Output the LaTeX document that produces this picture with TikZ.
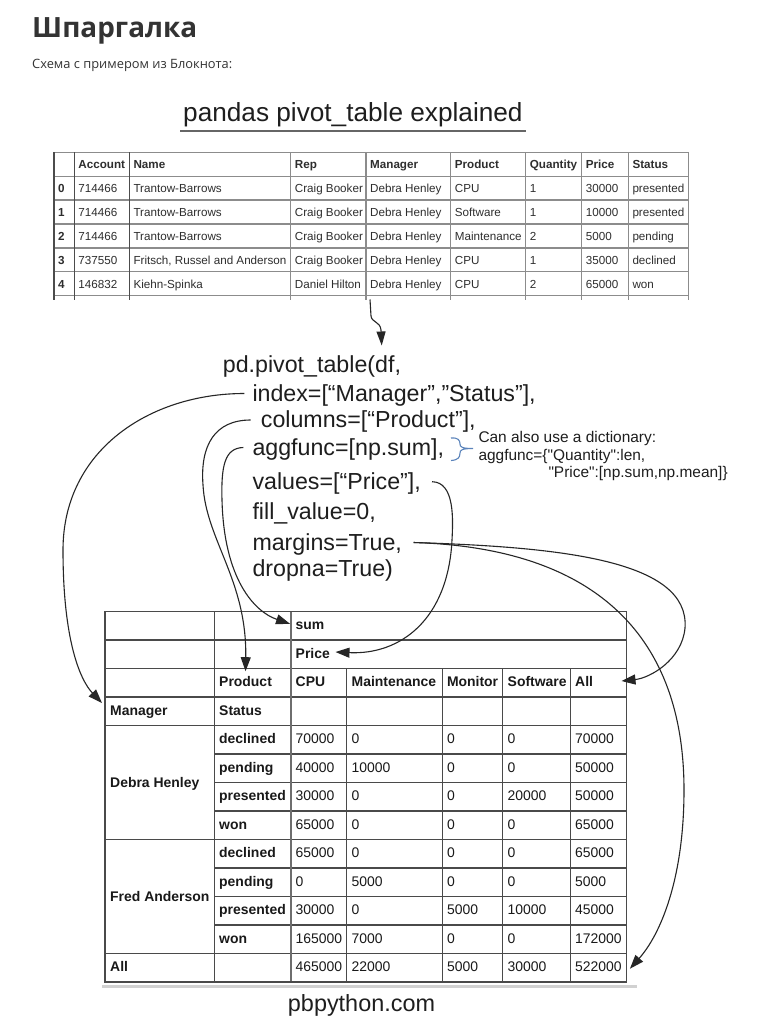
\documentclass[tikz,border=0pt]{standalone}
\usepackage{fontspec}
\setmainfont{Liberation Sans}
\newfontfamily\osans{Open Sans}
\newfontfamily\notefont{Liberation Sans}[Ligatures=TeXOff]
\usetikzlibrary{arrows.meta,calc}
\definecolor{txt}{HTML}{1E1E1E}
\definecolor{ttline}{HTML}{8C8C8C}
\definecolor{btline}{HTML}{4A4A4A}
\definecolor{bracec}{HTML}{5B84BB}
\tikzset{
 ttx/.style={anchor=base west, inner sep=0, font=\fontsize{11.7}{13}\selectfont, text=black!82},
 ttb/.style={ttx, font=\fontsize{11.7}{13}\selectfont\bfseries},
 btx/.style={anchor=base west, inner sep=0, font=\fontsize{14}{16}\selectfont, text=black!90},
 btb/.style={btx, font=\fontsize{14}{16}\selectfont\bfseries},
 code/.style={anchor=base west, inner sep=0, font=\fontsize{23.3}{28}\selectfont, text=txt},
 note/.style={anchor=base west, inner sep=0, font=\notefont\fontsize{15.5}{18}\selectfont, text=txt},
 conn/.style={line width=1.1bp, draw=black!85, -{Triangle[length=14bp,width=10bp]}},
 connsm/.style={line width=1.1bp, draw=black!85, -{Triangle[length=14bp,width=9bp]}},
 ttgrid/.style={draw=ttline, line width=1.3bp},
 btgrid/.style={draw=btline, line width=1.2bp},
}
\newcommand\ttrow[9]{%
 \pgfmathsetmacro\ttY{168.6+23.9*(#1+1)}%
 \node[ttb] (t#1c0) at (58,\ttY) {#1};
 \node[ttx] (t#1c1) at (78.3,\ttY) {#2};
 \node[ttx] (t#1c2) at (133.3,\ttY) {#3};
 \node[ttx] (t#1c3) at (294.7,\ttY) {#4};
 \node[ttx] (t#1c4) at (370,\ttY) {#5};
 \node[ttx] (t#1c5) at (454.7,\ttY) {#6};
 \node[ttx] (t#1c6) at (529.7,\ttY) {#7};
 \node[ttx] (t#1c7) at (585.7,\ttY) {#8};
 \node[ttx] (t#1c8) at (632.3,\ttY) {#9};
}
\newcommand\btrow[7]{%
 \pgfmathsetmacro\btY{611.5+28.5*#1+18}%
 \node[btb] (b#1s) at (219,\btY) {#2};
 \node[btx] (b#1a) at (295.5,\btY) {#3};
 \node[btx] (b#1b) at (351.5,\btY) {#4};
 \node[btx] (b#1c) at (446.8,\btY) {#5};
 \node[btx] (b#1d) at (507.5,\btY) {#6};
 \node[btx] (b#1e) at (575,\btY) {#7};
}
\begin{document}
\begin{tikzpicture}[x=1bp,y=-1bp]
\useasboundingbox (0,0) rectangle (774,1029);
\fill[white] (0,0) rectangle (774,1029);

% ---- page heading ----
\node[anchor=base west, inner sep=0, font=\osans\bfseries\fontsize{28}{32}\selectfont, text=black!80] (title) at (32,37) {Шпаргалка};
\node[anchor=base west, inner sep=0, font=\osans\fontsize{12.9}{15}\selectfont, text=black!80] (subtitle) at (32,68) {Схема с примером из Блокнота:};

\node[anchor=base west, inner sep=0, font=\fontsize{26.3}{30}\selectfont, text=txt] (head) at (183,121) {pandas pivot\_table explained};
\draw[black!60, line width=2bp] (180,131) -- (526,131);

% ---- top table ----
\foreach \yy in {152.3,176.2,200.1,224.0,247.9,271.8,295.7}
  \draw[ttgrid] (54,\yy) -- (688.3,\yy);
\foreach \xx in {54,74.3,129.3,290.7,366,450.7,525.7,581.7,628.3,688.3}
  \draw[ttgrid] (\xx,152.3) -- (\xx,299.5);
\draw[draw=black!70, line width=1.5bp] (54,152.3) -- (54,299.5) (74.3,152.3) -- (74.3,299.5) (129.3,152.3) -- (129.3,299.5);

\node[ttb] (th1) at (78.3,168.6) {Account};
\node[ttb] (th2) at (133.3,168.6) {Name};
\node[ttb] (th3) at (294.7,168.6) {Rep};
\node[ttb] (th4) at (370,168.6) {Manager};
\node[ttb] (th5) at (454.7,168.6) {Product};
\node[ttb] (th6) at (529.7,168.6) {Quantity};
\node[ttb] (th7) at (585.7,168.6) {Price};
\node[ttb] (th8) at (632.3,168.6) {Status};
\ttrow{0}{714466}{Trantow-Barrows}{Craig Booker}{Debra Henley}{CPU}{1}{30000}{presented}
\ttrow{1}{714466}{Trantow-Barrows}{Craig Booker}{Debra Henley}{Software}{1}{10000}{presented}
\ttrow{2}{714466}{Trantow-Barrows}{Craig Booker}{Debra Henley}{Maintenance}{2}{5000}{pending}
\ttrow{3}{737550}{Fritsch, Russel and Anderson}{Craig Booker}{Debra Henley}{CPU}{1}{35000}{declined}
\ttrow{4}{146832}{Kiehn-Spinka}{Daniel Hilton}{Debra Henley}{CPU}{2}{65000}{won}

% ---- code ----
\node[code] (cpd) at (222.7,372) {pd.pivot\_table(df,};
\node[code] (cidx) at (252.3,401) {index=[“Manager”,”Status”],};
\node[code] (ccol) at (260.7,427.5) {columns=[“Product”],};
\node[code] (cagg) at (252.3,455) {aggfunc=[np.sum],};
\node[code] (cval) at (252.3,489.5) {values=[“Price”],};
\node[code] (cfill) at (252.3,519.5) {fill\_value=0,};
\node[code] (cmar) at (252.3,550.5) {margins=True,};
\node[code] (cdrop) at (252.3,576) {dropna=True)};

% ---- note with brace ----
\draw[bracec, line width=1.1bp] (451,438) .. controls (458,437.5) and (460,440) .. (460,444)
  .. controls (460,447) and (462,448.5) .. (473,448.5)
  .. controls (462,448.5) and (460,450) .. (460,453)
  .. controls (460,457.5) and (458,460) .. (451,460.5);
\node[note] (n1) at (478.3,442) {Can also use a dictionary:};
\node[note] (n2) at (478.3,460.3) {aggfunc=\{"Quantity":len,};
\node[note] (n3) at (548.3,477) {"Price":[np.sum,np.mean]\}};

% ---- bottom table ----
\foreach \yy in {640,668.5,697,725.5,839.5,953.5}
  \draw[btgrid] (105,\yy) -- (626.7,\yy);
\foreach \yy in {754,782.5,811,868,896.5,925}
  \draw[btgrid] (214.3,\yy) -- (626.7,\yy);
\foreach \xx in {214.3}
  \draw[btgrid] (\xx,611.5) -- (\xx,982);
\draw[draw=btline!80, line width=2.3bp] (290.7,611.5) -- (290.7,982);
\foreach \xx in {346.7,442.3,502.7,570.7}
  \draw[btgrid] (\xx,668.5) -- (\xx,982);
\draw[btgrid] (105,611.5) rectangle (626.7,982);

\node[btb] (bSum) at (295.5,629.5) {sum};
\node[btb] (bPrice) at (295.5,658) {Price};
\node[btb] (bProduct) at (219,686.5) {Product};
\node[btb] (bCPU) at (295.5,686.5) {CPU};
\node[btb] (bMaint) at (351.5,686.5) {Maintenance};
\node[btb] (bMon) at (446.8,686.5) {Monitor};
\node[btb] (bSoft) at (507.5,686.5) {Software};
\node[btb] (bAll) at (575,686.5) {All};
\node[btb] (bMgr) at (110,715) {Manager};
\node[btb] (bStatus) at (219,715) {Status};
\node[btb] (bDebra) at (110,787.5) {Debra Henley};
\node[btb] (bFred) at (110,901.5) {Fred Anderson};
\node[btb] (bAllRow) at (110,971.5) {All};
\btrow{4}{declined}{70000}{0}{0}{0}{70000}
\btrow{5}{pending}{40000}{10000}{0}{0}{50000}
\btrow{6}{presented}{30000}{0}{0}{20000}{50000}
\btrow{7}{won}{65000}{0}{0}{0}{65000}
\btrow{8}{declined}{65000}{0}{0}{0}{65000}
\btrow{9}{pending}{0}{5000}{0}{0}{5000}
\btrow{10}{presented}{30000}{0}{5000}{10000}{45000}
\btrow{11}{won}{165000}{7000}{0}{0}{172000}
\btrow{12}{}{465000}{22000}{5000}{30000}{522000}

% ---- footer ----
\draw[black!18, line width=2.5bp] (102,986.5) -- (637,986.5);
\node[anchor=base, inner sep=0, font=\fontsize{23.5}{28}\selectfont, text=txt] (foot) at (361.5,1011) {pbpython.com};

% ---- connector end points ----
\coordinate (tabOut) at (370,299.5);
\coordinate (pdTip) at (381.7,345.5);
\coordinate (tipMgr) at (102,703);
\coordinate (tipAll) at (621.5,681);

% ---- connectors ----
\draw[connsm] (tabOut) -- (371,316) .. controls (372,323) and (380,321) .. (381,330) -- (pdTip);
\draw[conn] ($(cidx.base west)+(-8,-7.5)$) .. controls (150,393.5) and (63,450) .. (63,550)
  .. controls (63,640) and (80,680) .. (tipMgr);
\draw[conn] ($(ccol.base west)+(-10,-7.5)$) .. controls (215,420) and (200,445) .. (203,485)
  .. controls (206,540) and (247,580) .. ([yshift=5bp]bProduct.north);
\draw[conn] ($(cagg.base west)+(-9,-7.5)$) .. controls (225,448) and (221,465) .. (222,500)
  .. controls (224,580) and (255,612) .. ([xshift=-5.5bp,yshift=2bp]bSum.west);
\draw[conn] ($(cval.base east)+(11,-7.8)$) .. controls (455,482) and (453,520) .. (452,540)
  .. controls (448,620) and (400,655) .. ([xshift=5.5bp,yshift=1bp]bPrice.east);
\draw[conn] ($(cmar.base east)+(11.5,-8)$) .. controls (560,547) and (690,560) .. (685,628)
  .. controls (682,660) and (650,678) .. (tipAll);
\draw[conn] ($(cmar.base east)+(11.5,-8)$) .. controls (600,548) and (684,640) .. (684,790)
  .. controls (684,880) and (660,935) .. ([xshift=8bp,yshift=-2bp]b12e.east);
\end{tikzpicture}
\end{document}
